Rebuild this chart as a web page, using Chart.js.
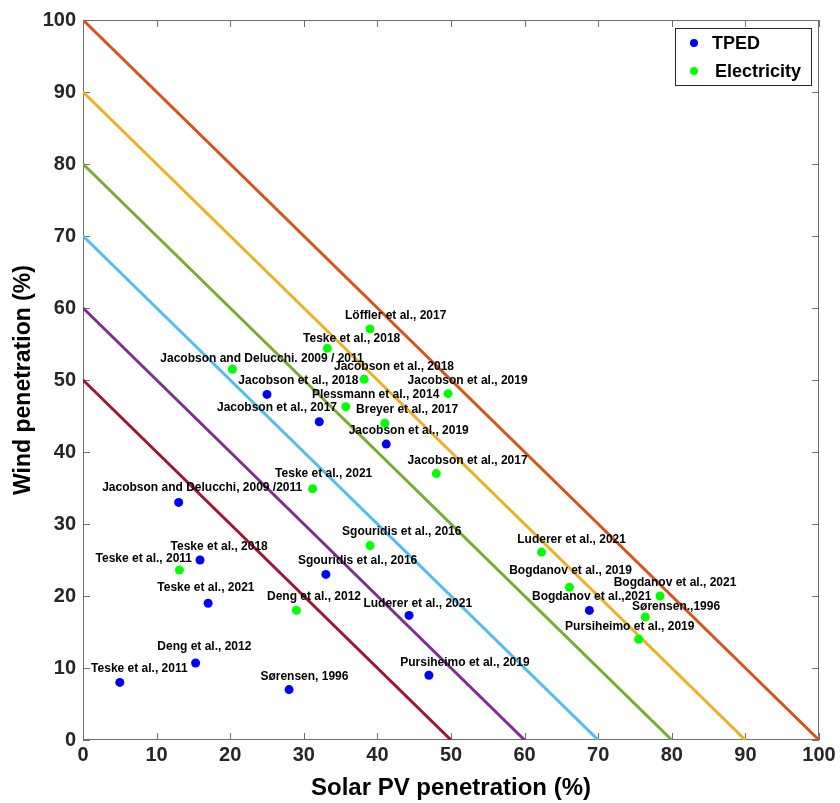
<!DOCTYPE html>
<html>
<head>
<meta charset="utf-8">
<script src="https://cdn.jsdelivr.net/npm/chart.js@4"></script>
<style>
  body { margin: 0; background: #fff; }
  canvas { display: block; }
</style>
</head>
<body>
<canvas id="penChart" width="840" height="803"></canvas>
<script>
const FONT = "'Liberation Sans', Arial, Helvetica, sans-serif";

// Diagonal guide lines: solar + wind = level
const levels = [50, 60, 70, 80, 90, 100];
const levelColors = ['#a2142f', '#7e2f8e', '#4dbeee', '#77ac30', '#edb120', '#d95319'];

// TPED studies
const tpedSolar = [5, 15.3, 28, 47, 17, 44.3, 33, 15.9, 13, 41.2, 32.1, 25, 68.8];
const tpedWind = [8, 10.7, 7, 9, 19, 17.3, 23, 25, 33, 41.1, 44.2, 48, 18];
const tpedNames = [
    'Teske et al., 2011', 'Deng et al., 2012', 'Sørensen, 1996', 'Pursiheimo et al., 2019',
    'Teske et al., 2021', 'Luderer et al., 2021', 'Sgouridis et al., 2016', 'Teske et al., 2018',
    'Jacobson and Delucchi, 2009 /2011', 'Jacobson et al., 2019', 'Jacobson et al., 2017',
    'Jacobson et al., 2018', 'Bogdanov et al.,2021'
];
// where each text label sits (data units, left edge / middle)
const tpedTextX = [1.1, 10.1, 24.1, 43.1, 10.1, 38.1, 29.2, 11.9, 2.6, 36.1, 18.2, 21.1, 61.0];
const tpedTextY = [9.9, 12.9, 8.8, 10.8, 21.1, 18.9, 24.9, 26.9, 35.1, 42.9, 46.2, 49.9, 19.9];

// Electricity studies
const elecSolar = [13.1, 29, 39, 31.2, 20.3, 33.2, 39, 38.2, 49.6, 35.7, 41, 48, 62.3, 66.1, 78.4, 76.4, 75.5];
const elecWind = [23.6, 18, 27, 34.9, 51.5, 54.4, 57.1, 50.1, 48.1, 46.3, 44, 37, 26.1, 21.2, 20, 17.1, 14];
const elecNames = [
    'Teske et al., 2011', 'Deng et al., 2012', 'Sgouridis et al., 2016', 'Teske et al., 2021',
    'Jacobson and Delucchi. 2009 / 2011', 'Teske et al., 2018', 'Löffler et al., 2017',
    'Jacobson et al., 2018', 'Jacobson et al., 2019', 'Plessmann et al., 2014', 'Breyer et al., 2017',
    'Jacobson et al., 2017', 'Luderer et al., 2021', 'Bogdanov et al., 2019', 'Bogdanov et al., 2021',
    'Sørensen.,1996', 'Pursiheimo et al., 2019'
];
const elecTextX = [1.7, 25.0, 35.2, 26.1, 10.5, 29.9, 35.6, 34.1, 44.1, 31.1, 37.1, 44.1, 59.0, 57.9, 72.1, 74.6, 65.5];
const elecTextY = [25.2, 19.9, 28.9, 37.0, 52.9, 55.8, 59.0, 51.9, 49.9, 47.9, 45.9, 38.8, 27.8, 23.5, 21.9, 18.5, 15.7];

const axisTicks = [0, 10, 20, 30, 40, 50, 60, 70, 80, 90, 100];

function toPoints(xs, ys) {
    return xs.map((x, i) => ({ x: x, y: ys[i] }));
}

const lineSets = levels.map((lv, i) => ({
    label: 'line' + lv,
    data: [{ x: 0, y: lv }, { x: lv, y: 0 }],
    showLine: true,
    borderColor: levelColors[i],
    borderWidth: 3,
    pointRadius: 0,
    order: 10,
    isGuide: true
}));

const pointSets = [
    {
        label: 'TPED',
        data: toPoints(tpedSolar, tpedWind),
        backgroundColor: '#0000ff',
        borderWidth: 0,
        pointRadius: 4.5,
        order: 1,
        names: tpedNames, textX: tpedTextX, textY: tpedTextY
    },
    {
        label: 'Electricity',
        data: toPoints(elecSolar, elecWind),
        backgroundColor: '#00ff00',
        borderWidth: 0,
        pointRadius: 4.5,
        order: 1,
        names: elecNames, textX: elecTextX, textY: elecTextY
    }
];

// box round the axes + inward tick marks
const framePlugin = {
    id: 'frame',
    beforeDatasetsDraw(chart) {
        const { ctx, chartArea: a, scales } = chart;
        ctx.save();
        ctx.strokeStyle = '#6e6e6e';
        ctx.lineWidth = 1;
        ctx.strokeRect(a.left + 0.5, a.top + 0.5, a.right - a.left - 1, a.bottom - a.top - 1);
        const len = 7;
        ctx.beginPath();
        axisTicks.forEach(v => {
            const px = Math.round(scales.x.getPixelForValue(v)) + 0.5;
            ctx.moveTo(px, a.bottom); ctx.lineTo(px, a.bottom - len);
            ctx.moveTo(px, a.top); ctx.lineTo(px, a.top + len);
            const py = Math.round(scales.y.getPixelForValue(v)) + 0.5;
            ctx.moveTo(a.left, py); ctx.lineTo(a.left + len, py);
            ctx.moveTo(a.right, py); ctx.lineTo(a.right - len, py);
        });
        ctx.stroke();
        ctx.restore();
    }
};

// study names next to the dots
const namesPlugin = {
    id: 'names',
    afterDatasetsDraw(chart) {
        const { ctx, scales } = chart;
        ctx.save();
        ctx.font = 'bold 12px ' + FONT;
        ctx.fillStyle = '#000';
        ctx.textAlign = 'left';
        ctx.textBaseline = 'middle';
        chart.data.datasets.forEach(ds => {
            if (!ds.names) return;
            ds.names.forEach((n, i) => {
                ctx.fillText(n, scales.x.getPixelForValue(ds.textX[i]), scales.y.getPixelForValue(ds.textY[i]));
            });
        });
        ctx.restore();
    }
};

// boxed legend in the top right corner
const legendBoxPlugin = {
    id: 'legendBox',
    afterDraw(chart) {
        const { ctx, chartArea: a } = chart;
        const items = chart.data.datasets.filter(ds => !ds.isGuide);
        const w = 136, h = 57;
        const x0 = a.right - 8 - w, y0 = a.top + 8;
        ctx.save();
        ctx.fillStyle = '#fff';
        ctx.fillRect(x0, y0, w, h);
        ctx.strokeStyle = '#262626';
        ctx.lineWidth = 1;
        ctx.strokeRect(x0 + 0.5, y0 + 0.5, w, h);
        ctx.font = 'bold 18px ' + FONT;
        ctx.textBaseline = 'middle';
        items.forEach((ds, i) => {
            const cy = y0 + 15 + i * 28;
            ctx.fillStyle = ds.backgroundColor;
            ctx.beginPath();
            ctx.arc(x0 + 19, cy, 4, 0, Math.PI * 2);
            ctx.fill();
            ctx.fillStyle = '#000';
            ctx.fillText(ds.label, x0 + 37 + i * 3, cy + 1);
        });
        ctx.restore();
    }
};

const bgPlugin = {
    id: 'bg',
    beforeDraw(chart) {
        const ctx = chart.ctx;
        ctx.save();
        ctx.fillStyle = '#fff';
        ctx.fillRect(0, 0, chart.width, chart.height);
        ctx.restore();
    }
};

new Chart(document.getElementById('penChart'), {
    type: 'scatter',
    data: { datasets: pointSets.concat(lineSets) },
    options: {
        responsive: false,
        animation: false,
        layout: { padding: { left: 3, right: 21, top: 20, bottom: 0 } },
        plugins: {
            legend: { display: false },
            tooltip: { enabled: false }
        },
        scales: {
            x: {
                type: 'linear',
                min: 0,
                max: 100,
                afterFit: s => { s.height = 63; },
                afterBuildTicks: s => { s.ticks = axisTicks.map(v => ({ value: v })); },
                grid: { display: false, drawTicks: false },
                border: { display: false },
                ticks: {
                    padding: 3,
                    color: '#262626',
                    font: { family: FONT, size: 20, weight: 'bold' }
                },
                title: {
                    display: true,
                    text: 'Solar PV penetration (%)',
                    color: '#000',
                    padding: { top: 0, bottom: 0 },
                    font: { family: FONT, size: 24, weight: 'bold' }
                }
            },
            y: {
                type: 'linear',
                min: 0,
                max: 100,
                afterFit: s => { s.width = 80; },
                afterBuildTicks: s => { s.ticks = axisTicks.map(v => ({ value: v })); },
                grid: { display: false, drawTicks: false },
                border: { display: false },
                ticks: {
                    padding: 7,
                    color: '#262626',
                    font: { family: FONT, size: 20, weight: 'bold' }
                },
                title: {
                    display: true,
                    text: 'Wind penetration (%)',
                    color: '#000',
                    padding: { top: 7, bottom: 0 },
                    font: { family: FONT, size: 23, weight: 'bold' }
                }
            }
        }
    },
    plugins: [bgPlugin, framePlugin, namesPlugin, legendBoxPlugin]
});
</script>
</body>
</html>
